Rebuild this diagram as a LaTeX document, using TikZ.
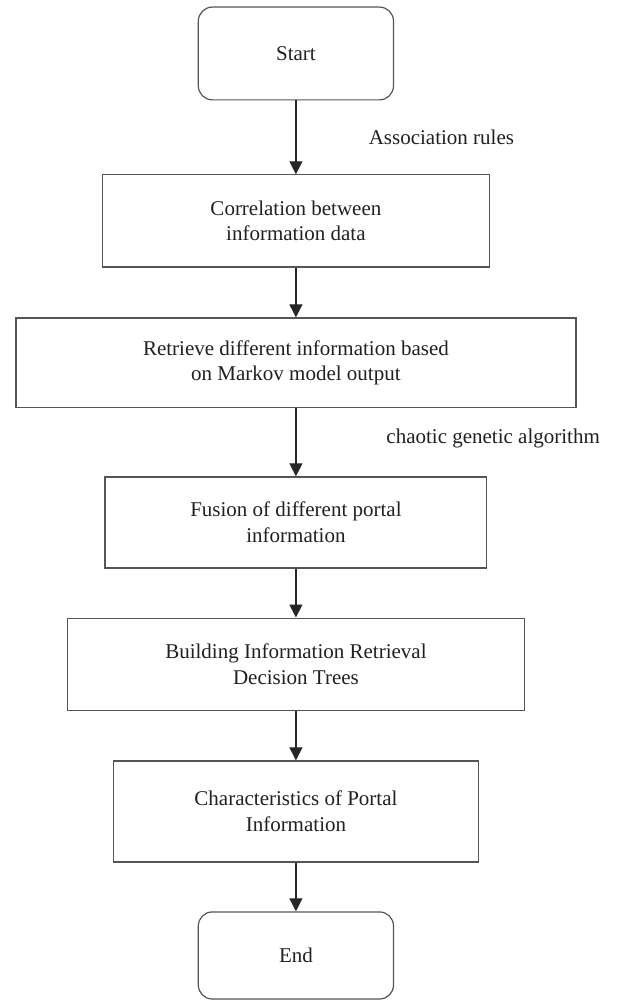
\documentclass[tikz,border=0pt]{standalone}
\usepackage{fontspec}
\setmainfont{Liberation Serif}
\usepackage{xcolor}
\usepackage{tikz}
\usetikzlibrary{arrows.meta,positioning}
\definecolor{boxgray}{HTML}{555555}
\definecolor{arrowdark}{HTML}{262626}
\definecolor{textdark}{HTML}{231F20}

\begin{document}
\begin{tikzpicture}[
  >={Triangle[length=6.5pt,width=6.5pt]},
  every node/.style={font=\fontsize{10.5}{12.8}\selectfont, text=textdark},
  terminal/.style={draw=boxgray, line width=0.6pt, rounded corners=7pt, minimum width=3.43cm, align=center},
  process/.style={draw=boxgray, line width=0.6pt, align=center},
  flow/.style={->, line width=0.6pt, draw=arrowdark},
  lab/.style={inner sep=0pt, anchor=west}
]
\useasboundingbox (0,0) rectangle (10.825,17.59);

\node[terminal, minimum height=1.63cm] (start) at (5.2,16.65) {Start};
\node[process, minimum width=6.8cm, minimum height=1.62cm] (corr) at (5.2,13.707) {Correlation between\\information data};
\node[process, minimum width=9.84cm, minimum height=1.58cm] (retrieve) at (5.2,11.212) {Retrieve different information based\\on Markov model output};
\node[process, minimum width=6.71cm, minimum height=1.6cm] (fusion) at (5.2,8.409) {Fusion of different portal\\information};
\node[process, minimum width=8.03cm, minimum height=1.63cm] (building) at (5.2,5.913) {Building Information Retrieval\\Decision Trees};
\node[process, minimum width=6.41cm, minimum height=1.775cm] (charac) at (5.2,3.33) {Characteristics of Portal\\Information};
\node[terminal, minimum height=1.53cm] (finish) at (5.2,0.8) {End};

\draw[flow] (start) -- node[lab, xshift=1.27cm] {Association rules} (corr);
\draw[flow] (corr) -- (retrieve);
\draw[flow] (retrieve) -- node[lab, xshift=1.58cm, yshift=0.07cm] {chaotic genetic algorithm} (fusion);
\draw[flow] (fusion) -- (building);
\draw[flow] (building) -- (charac);
\draw[flow] (charac) -- (finish);
\end{tikzpicture}
\end{document}
